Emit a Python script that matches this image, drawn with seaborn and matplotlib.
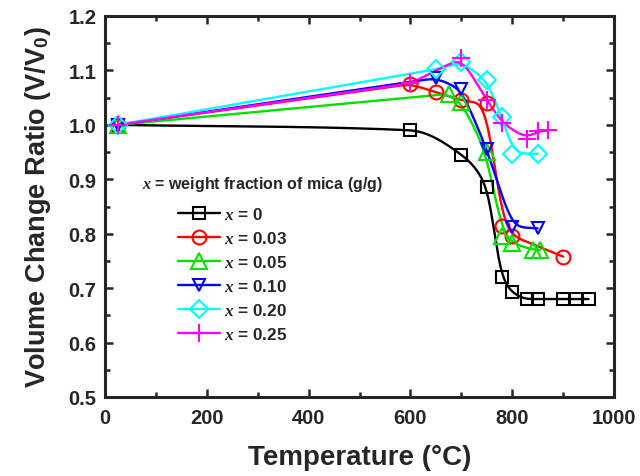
import numpy as np
import pandas as pd
import matplotlib
matplotlib.use("Agg")
import matplotlib.pyplot as plt
from matplotlib.lines import Line2D
from matplotlib.ticker import MultipleLocator, FormatStrFormatter
import seaborn as sns

# ---------------- data ----------------
T_0 = [25, 600, 700, 750, 780, 800, 830, 850, 900, 925, 950]
V_0 = [1.0, 0.99, 0.945, 0.885, 0.72, 0.693, 0.68, 0.68, 0.68, 0.68, 0.68]

T_03 = [25, 600, 650, 700, 750, 780, 800, 900]
V_03 = [1.0, 1.075, 1.06, 1.045, 1.04, 0.815, 0.796, 0.758]

T_05 = [25, 675, 700, 750, 780, 800, 840, 855]
V_05 = [1.0, 1.057, 1.042, 0.95, 0.795, 0.783, 0.77, 0.77]

T_10 = [25, 650, 700, 750, 800, 850]
V_10 = [1.0, 1.086, 1.066, 0.956, 0.812, 0.81]

T_20 = [25, 650, 700, 750, 780, 800, 850]
V_20 = [1.0, 1.102, 1.115, 1.083, 1.015, 0.947, 0.947]

T_25 = [25, 600, 700, 750, 780, 830, 850, 870]
V_25 = [1.0, 1.076, 1.123, 1.046, 1.003, 0.974, 0.989, 0.991]

labels = ["0", "0.03", "0.05", "0.10", "0.20", "0.25"]
series_T = [T_0, T_03, T_05, T_10, T_20, T_25]
series_V = [V_0, V_03, V_05, V_10, V_20, V_25]

colors = ["#000000", "#FF0000", "#00E000", "#0000FF", "#00FFFF", "#FF00FF"]
markers = ["s", "o", "^", "v", "D", "+"]
msizes = [9, 10, 11, 9, 9, 13]
curve_kind = ["cubic", "linear", "linear", "linear", "linear", "linear"]


def base_curve(x, y, kind):
    xs = np.arange(x[0], x[-1] + 0.5, 1.0)
    if kind == "linear":
        return xs, np.interp(xs, x, y)
    h = np.diff(x)
    delta = np.diff(y) / h
    d = np.zeros_like(y)
    for k in range(1, len(x) - 1):
        if delta[k - 1] * delta[k] > 0:
            w1 = 2 * h[k] + h[k - 1]
            w2 = h[k] + 2 * h[k - 1]
            d[k] = (w1 + w2) / (w1 / delta[k - 1] + w2 / delta[k])
    d[0] = delta[0]
    d[-1] = delta[-1]
    idx = np.clip(np.searchsorted(x, xs) - 1, 0, len(x) - 2)
    t = (xs - x[idx]) / h[idx]
    ys = ((2 * t**3 - 3 * t**2 + 1) * y[idx] + (t**3 - 2 * t**2 + t) * h[idx] * d[idx]
          + (-2 * t**3 + 3 * t**2) * y[idx + 1] + (t**3 - t**2) * h[idx] * d[idx + 1])
    return xs, ys


def smooth_curve(x, y, kind, sigma=13.0):
    """Curve through the points, Gaussian-smoothed for a spline-like look."""
    x = np.asarray(x, float)
    y = np.asarray(y, float)
    xs, ys = base_curve(x, y, kind)
    r = int(4 * sigma)
    left = ys[0] + (ys[1] - ys[0]) * np.arange(-r, 0)
    right = ys[-1] + (ys[-1] - ys[-2]) * np.arange(1, r + 1)
    ext = np.concatenate([left, ys, right])
    k = np.exp(-0.5 * (np.arange(-r, r + 1) / sigma) ** 2)
    k /= k.sum()
    sm = np.convolve(ext, k, mode="same")[r:-r]
    return xs, sm


# ---------------- style ----------------
sns.set_style("ticks")
plt.rcParams["font.family"] = ["Liberation Sans", "DejaVu Sans"]
plt.rcParams["font.weight"] = "bold"
plt.rcParams["mathtext.fontset"] = "custom"
plt.rcParams["mathtext.rm"] = "Liberation Sans:bold"
plt.rcParams["mathtext.bf"] = "Liberation Sans:bold"
plt.rcParams["mathtext.it"] = "Liberation Serif:italic:bold"

fig = plt.figure(figsize=(6.4, 4.77), dpi=100)
ax = fig.add_axes([105 / 640, 1 - 398 / 477, (614 - 105) / 640, (398 - 17) / 477])

handles = []
for T, V, lab, c, m, ms, kind in zip(series_T, series_V, labels, colors, markers,
                                     msizes, curve_kind):
    xs, ys = smooth_curve(T, V, kind, sigma=13.0 if kind == "linear" else 8.0)
    sns.lineplot(x=xs, y=ys, ax=ax, color=c, linewidth=1.7, sort=False, legend=False)
    df = pd.DataFrame({"T": T, "V": V})
    face = c if m == "+" else "none"
    ax.plot(df["T"], df["V"], linestyle="none", marker=m, markersize=ms,
            markerfacecolor=face, markeredgecolor=c, markeredgewidth=1.5, zorder=3)
    handles.append(Line2D([0], [0], color=c, linewidth=1.7, marker=m, markersize=ms,
                          markerfacecolor=face, markeredgecolor=c, markeredgewidth=1.5,
                          label=r"$x$ = " + lab))

ax.set_xlim(0, 1000)
ax.set_ylim(0.5, 1.2)
ax.xaxis.set_major_locator(MultipleLocator(200))
ax.xaxis.set_minor_locator(MultipleLocator(100))
ax.yaxis.set_major_locator(MultipleLocator(0.1))
ax.yaxis.set_minor_locator(MultipleLocator(0.05))
ax.yaxis.set_major_formatter(FormatStrFormatter("%.1f"))
ax.tick_params(which="both", direction="in", top=True, right=True, width=1.8,
               labelsize=14.5)
ax.tick_params(axis="x", which="both", pad=8)
ax.tick_params(axis="y", which="both", pad=6)
ax.tick_params(which="major", length=6)
ax.tick_params(which="minor", length=3.5)
for lbl in ax.get_xticklabels() + ax.get_yticklabels():
    lbl.set_fontweight("bold")
for s in ax.spines.values():
    s.set_linewidth(2.2)
    s.set_visible(True)

ax.set_xlabel("Temperature (°C)", fontsize=20, fontweight="bold", labelpad=12)
ax.set_ylabel(r"Volume Change Ratio (V/V$_{\mathbf{0}}$)", fontsize=19.5,
              fontweight="bold", labelpad=11)

fig.text(142 / 640, 1 - 184 / 477, r"$x$ = weight fraction of mica (g/g)",
         fontsize=11.5, fontweight="bold", va="center", ha="left")
ax.legend(handles=handles, loc="upper left",
          bbox_to_anchor=(178 / 640, 1 - 207 / 477), bbox_transform=fig.transFigure,
          frameon=False, fontsize=12.3, handlelength=2.45, handletextpad=0.25,
          labelspacing=0.47, borderpad=0, borderaxespad=0)

fig.savefig("out.png", dpi=100)
